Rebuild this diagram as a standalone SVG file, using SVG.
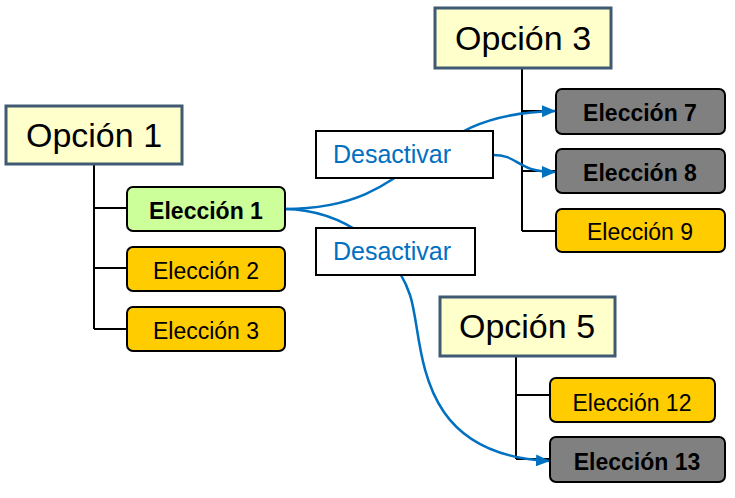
<svg xmlns="http://www.w3.org/2000/svg" width="735" height="498" viewBox="0 0 735 498">
<style>
.opt{fill:#ffffcc;stroke:#3f5a72;stroke-width:3}
.ot{font-family:"Liberation Sans",Arial,sans-serif;font-size:34px;fill:#000;text-anchor:middle}
.el{stroke:#000;stroke-width:2}
.y{fill:#ffcc00}.g{fill:#808080}.gr{fill:#ccff99}
.et{font-family:"Liberation Sans",Arial,sans-serif;font-size:23px;fill:#000;text-anchor:middle}
.b{font-weight:bold}
.de{fill:#fff;stroke:#000;stroke-width:2}
.dt{font-family:"Liberation Sans",Arial,sans-serif;font-size:25px;fill:#0070c0}
.tree{fill:none;stroke:#000;stroke-width:2}
.arr{fill:none;stroke:#0070c0;stroke-width:2.5}
</style>
<defs>
<marker id="ah" markerUnits="userSpaceOnUse" markerWidth="16" markerHeight="12" refX="14" refY="6" orient="auto">
<path d="M0,0 L14,6 L0,12 Z" fill="#0070c0"/>
</marker>
</defs>
<g id="connectors">
<path class="tree" d="M94,164 V329 M94,208 H127 M94,268 H127 M94,329 H127"/>
<path class="tree" d="M522,68 V231 M522,111 H556 M522,171 H556 M522,231 H556"/>
<path class="tree" d="M516,356 V459 M516,395 H550 M516,459 H550"/>
<path class="arr" d="M285,209 C425,209 410,113 556,111" marker-end="url(#ah)"/>
<path class="arr" d="M493,155 C520,155 515,172 556,172" marker-end="url(#ah)"/>
<path class="arr" d="M285,209 C345,210 395,250 410,295 C425,340 410,455 550,461" marker-end="url(#ah)"/>
</g>
<g id="opcion1"><rect class="opt" x="6" y="106" width="176" height="58"/><text class="ot" x="94" y="147">Opción 1</text></g>
<g id="eleccion1"><rect class="el gr" x="127" y="187" width="158" height="44" rx="6"/><text class="et b" x="206" y="219">Elección 1</text></g>
<g id="eleccion2"><rect class="el y" x="127" y="247" width="158" height="44" rx="6"/><text class="et" x="206" y="279">Elección 2</text></g>
<g id="eleccion3"><rect class="el y" x="127" y="307" width="158" height="44" rx="6"/><text class="et" x="206" y="339">Elección 3</text></g>
<g id="opcion3"><rect class="opt" x="435" y="8" width="176" height="60"/><text class="ot" x="523" y="50">Opción 3</text></g>
<g id="eleccion7"><rect class="el g" x="556" y="89" width="169" height="45" rx="6"/><text class="et b" x="640" y="121">Elección 7</text></g>
<g id="eleccion8"><rect class="el g" x="556" y="149" width="169" height="44" rx="6"/><text class="et b" x="640" y="181">Elección 8</text></g>
<g id="eleccion9"><rect class="el y" x="556" y="209" width="169" height="43" rx="6"/><text class="et" x="640" y="240">Elección 9</text></g>
<g id="desactivar1"><rect class="de" x="316" y="131" width="177" height="47"/><text class="dt" x="333" y="163">Desactivar</text></g>
<g id="desactivar2"><rect class="de" x="316" y="228" width="159" height="47"/><text class="dt" x="333" y="260">Desactivar</text></g>
<g id="opcion5"><rect class="opt" x="440" y="297" width="175" height="59"/><text class="ot" x="527" y="338">Opción 5</text></g>
<g id="eleccion12"><rect class="el y" x="550" y="378" width="165" height="44" rx="6"/><text class="et" x="632" y="411">Elección 12</text></g>
<g id="eleccion13"><rect class="el g" x="550" y="437" width="175" height="45" rx="6"/><text class="et b" x="637" y="470">Elección 13</text></g>
</svg>
